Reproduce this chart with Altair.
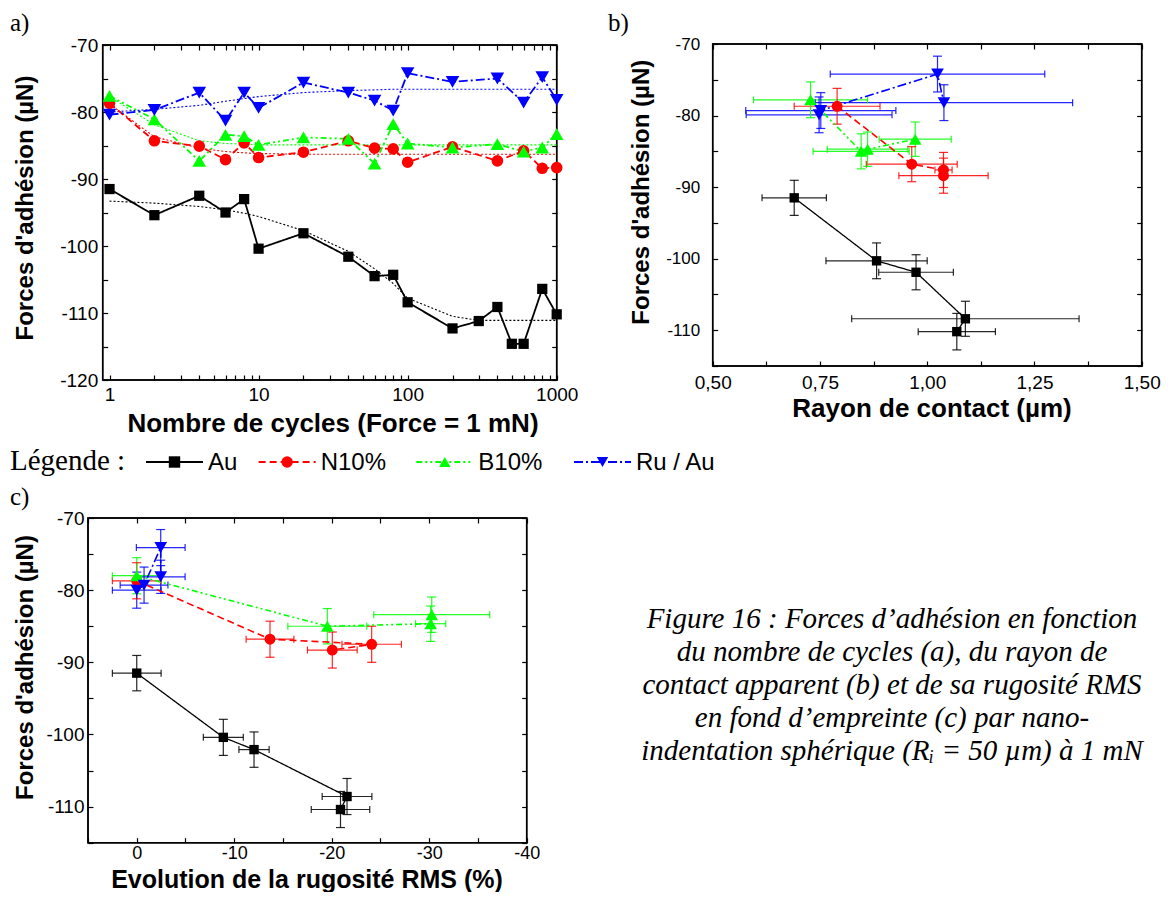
import altair as alt
import pandas as pd

W, H = 1158, 884
TS = 5
SANS = "Liberation Sans"
SERIF = "Liberation Serif"

SERIES = ["Au", "N10%", "B10%", "Ru / Au"]
COLORS = ["#000000", "#ff0000", "#00ff00", "#0000ff"]
SHAPES = ["square", "circle", "triangle-up", "triangle-down"]
DASHES = [[1, 0], [7, 4], [6, 3, 2, 3, 2, 3], [9, 3, 2, 3]]
SIZES_A = [105, 135, 185, 185]
SIZES_BC = [88, 120, 160, 160]

# ---------------- panel a : adhesion force vs number of cycles ----------------
CYCLES_AU = [1, 2, 4, 6, 8, 10, 20, 40, 60, 80, 100, 200, 300, 400, 500, 600, 800, 1000]
A_AU = [-91.5, -95.4, -92.5, -95.0, -93.0, -100.4, -98.1, -101.6, -104.5, -104.3,
        -108.4, -112.3, -111.2, -109.1, -114.6, -114.6, -106.4, -110.2]
CYCLES = [1, 2, 4, 6, 8, 10, 20, 40, 60, 80, 100, 200, 400, 600, 800, 1000]
A_N10 = [-78.7, -84.3, -85.1, -87.1, -84.6, -86.8, -86.0, -84.3, -85.4, -85.5,
         -87.5, -85.2, -87.3, -85.8, -88.4, -88.3]
A_B10 = [-77.6, -81.1, -87.3, -83.4, -83.6, -84.9, -83.8, -84.0, -87.7, -81.8,
         -84.7, -85.3, -84.8, -85.9, -85.3, -83.3]
A_RU = [-80.4, -79.7, -77.1, -81.3, -77.1, -79.4, -75.6, -77.1, -78.3, -79.8,
        -74.2, -75.5, -75.0, -78.6, -74.8, -78.2]

FIT_X = [1, 2, 4, 6, 8, 10, 20, 40, 60, 80, 100, 200, 300, 1000]
FIT_AU = [-93.3, -93.6, -94.1, -94.6, -95.1, -95.6, -97.7, -100.8, -103.4, -105.6,
          -107.8, -110.5, -111.1, -111.1]
FIT_N10 = [-78.8, -83.7, -85.4, -85.9, -86.1, -86.2, -86.3, -86.3, -86.3, -86.3,
           -86.3, -86.3, -86.3, -86.3]
FIT_B10 = [-77.7, -81.9, -84.3, -84.7, -84.8, -84.9, -84.9, -84.9, -84.9, -84.9,
           -84.9, -84.9, -84.9, -84.9]
FIT_RU = [-80.0, -79.6, -79.0, -78.4, -78.0, -77.7, -77.1, -76.8, -76.7, -76.6,
          -76.6, -76.6, -76.6, -76.6]

# ---------------- panel b : adhesion force vs contact radius ----------------
B_AU_X = [0.690, 0.882, 0.974, 1.089, 1.069]
B_AU_Y = [-91.5, -100.3, -101.9, -108.4, -110.2]
B_AU_XERR = [0.075, 0.118, 0.087, 0.265, 0.090]
B_AU_YERR = [2.45, 2.5, 2.45, 2.45, 2.55]
B_N10_X = [0.790, 0.964, 1.038, 1.038]
B_N10_Y = [-78.7, -86.8, -87.6, -88.4]
B_N10_XERR = [0.100, 0.106, 0.020, 0.104]
B_N10_YERR = [2.5, 2.45, 2.45, 2.45]
B_B10_X = [0.728, 0.846, 0.861, 0.972]
B_B10_Y = [-77.8, -85.0, -84.7, -83.3]
B_B10_XERR = [0.133, 0.112, 0.094, 0.084]
B_B10_YERR = [2.5, 2.45, 2.4, 2.4]
B_RU_X = [0.748, 0.752, 1.024, 1.039]
B_RU_Y = [-79.9, -79.3, -74.2, -78.2]
B_RU_XERR = [0.170, 0.175, 0.250, 0.300]
B_RU_YERR = [2.5, 2.5, 2.5, 2.5]

# ---------------- panel c : adhesion force vs RMS roughness change ----------------
C_AU_X = [0.0, -8.88, -12.03, -21.57, -20.9]
C_AU_Y = [-91.5, -100.4, -102.1, -108.6, -110.4]
C_AU_XERR = [2.5, 2.05, 1.55, 2.55, 3.0]
C_AU_YERR = [2.45, 2.5, 2.45, 2.5, 2.5]
C_N10_X = [0.0, -13.67, -24.1, -20.06]
C_N10_Y = [-78.7, -86.8, -87.5, -88.3]
C_N10_XERR = [2.5, 2.45, 3.05, 2.55]
C_N10_YERR = [2.5, 2.5, 2.5, 2.5]
C_B10_X = [0.0, -19.55, -30.15, -30.26]
C_B10_Y = [-78.0, -85.0, -84.65, -83.4]
C_B10_XERR = [2.5, 4.05, 1.55, 5.95]
C_B10_YERR = [2.5, 2.45, 2.45, 2.45]
C_RU_X = [0.0, -0.75, -2.46, -2.46]
C_RU_Y = [-80.0, -79.3, -74.1, -78.15]
C_RU_XERR = [2.5, 2.45, 2.5, 2.5]
C_RU_YERR = [2.5, 2.5, 2.5, 2.3]

# ---------------- ticks & texts ----------------
A_XTICKS = [1, 2, 3, 4, 5, 6, 7, 8, 9, 10, 20, 30, 40, 50, 60, 70, 80, 90,
            100, 200, 300, 400, 500, 600, 700, 800, 900, 1000]
A_YTICKS = [-120, -115, -110, -105, -100, -95, -90, -85, -80, -75, -70]
B_XTICKS = [0.5, 0.625, 0.75, 0.875, 1.0, 1.125, 1.25, 1.375, 1.5]
BC_YTICKS = [-115, -110, -105, -100, -95, -90, -85, -80, -75, -70]
C_XTICKS = [5, 0, -5, -10, -15, -20, -25, -30, -35, -40]

Y_TITLE = "Forces d'adhésion (µN)"
LEGEND_TITLE = "Légende :"
CAPTION = [
    "Figure 16 : Forces d’adhésion en fonction",
    "du nombre de cycles (a), du rayon de",
    "contact apparent (b) et de sa rugosité RMS",
    "en fond d’empreinte (c) par nano-",
    "indentation sphérique (Rᵢ = 50 µm) à 1 mN",
]

YLAB = "datum.value % 10 == 0 ? '' + datum.value : ''"

PA = dict(xtype="log", xdom=[0.9, 1000], xr=[94.7, 548.7], ydom=[-120, -70], yr=[372, 37],
          xticks=A_XTICKS, yticks=A_YTICKS,
          xlabel="indexof([1, 10, 100, 1000], datum.value) >= 0 ? '' + datum.value : ''",
          xlp=5, xfs=19, ylp=5, yfs=19,
          xtitle="Nombre de cycles (Force = 1 mN)", xtx=324.5, xty=423.7, xtfs=26,
          ytx=17, yty=199.5)
PB = dict(xtype="linear", xdom=[0.5, 1.5], xr=[704.7, 1133.7], ydom=[-115, -70], yr=[358, 36],
          xticks=B_XTICKS, yticks=BC_YTICKS,
          xlabel="abs(datum.value * 4 - round(datum.value * 4)) < 0.001 ? replace(format(datum.value, '.2f'), '.', ',') : ''",
          xlp=7, xfs=19, ylp=13, yfs=17,
          xtitle="Rayon de contact (µm)", xtx=923.5, xty=408.7, xtfs=26,
          ytx=633, yty=183.7)
PC = dict(xtype="linear", xdom=[5, -40], xr=[80, 518.7], ydom=[-115, -70], yr=[834.7, 510],
          xticks=C_XTICKS, yticks=BC_YTICKS,
          xlabel=YLAB, xlp=2, xfs=18, ylp=4, yfs=19,
          xtitle="Evolution de la rugosité RMS (%)", xtx=298.5, xty=879, xtfs=25,
          ytx=17, yty=659)


def xscale(p):
    kw = dict(type=p["xtype"], domain=p["xdom"], range=p["xr"], nice=False)
    if p["xtype"] != "log":
        kw["zero"] = False
    return alt.Scale(**kw)


def yscale(p):
    return alt.Scale(type="linear", domain=p["ydom"], range=p["yr"], nice=False, zero=False)


def X(field, p, axis=None):
    return alt.X(field, type="quantitative", scale=xscale(p), axis=axis)


def Y(field, p, axis=None):
    return alt.Y(field, type="quantitative", scale=yscale(p), axis=axis)


COLOR = alt.Color("series:N", scale=alt.Scale(domain=SERIES, range=COLORS), legend=None)


def frame_layers(p):
    df = pd.DataFrame({"x0": [p["xdom"][0]], "x1": [p["xdom"][1]],
                       "y0": [p["ydom"][0]], "y1": [p["ydom"][1]]})
    L, R = p["xr"]
    B, T = p["yr"]
    base = dict(tickSize=TS, tickColor="black", tickWidth=1.2, domain=False, grid=False,
                labelFlush=False, labelOverlap=False, labelBound=False, labelColor="black",
                labelFont=SANS, titleColor="black", titleFont=SANS, titleFontWeight="bold")
    bottom = alt.Axis(orient="bottom", offset=B - TS - H, values=p["xticks"], labelExpr=p["xlabel"],
                      labelPadding=p["xlp"], labelFontSize=p["xfs"], title=p["xtitle"],
                      titleX=p["xtx"], titleY=p["xty"] - (B - TS), titleBaseline="alphabetic",
                      titleAlign="center", titleFontSize=p["xtfs"], **base)
    left = alt.Axis(orient="left", offset=-(L + TS), values=p["yticks"], labelExpr=YLAB,
                    labelPadding=p["ylp"], labelFontSize=p["yfs"], title=Y_TITLE,
                    titleX=p["ytx"] - (L + TS), titleY=p["yty"], titleAngle=270,
                    titleAlign="center", titleBaseline="middle", titleFontSize=24, **base)
    top = alt.Axis(orient="top", offset=-(T + TS), values=p["xticks"], labels=False, title=None, **base)
    right = alt.Axis(orient="right", offset=R - TS - W, values=p["yticks"], labels=False, title=None, **base)
    l1 = alt.Chart(df).mark_rect(fill="transparent", stroke="black", strokeWidth=1.5).encode(
        x=X("x0", p, bottom), x2="x1", y=Y("y0", p, left), y2="y1")
    l2 = alt.Chart(df).mark_rect(fill="transparent", stroke="black", strokeWidth=1.5).encode(
        x=X("x0", p, top), x2="x1", y=Y("y0", p, right), y2="y1")
    return [l1, l2]


layers = []

# ---- panel a ----
a_rows = []
for s, (xs, ys) in zip(SERIES, [(CYCLES_AU, A_AU), (CYCLES, A_N10), (CYCLES, A_B10), (CYCLES, A_RU)]):
    for k, (xv, yv) in enumerate(zip(xs, ys)):
        a_rows.append({"series": s, "k": k, "x": xv, "y": yv})
df_a = pd.DataFrame(a_rows)
fit_rows = []
for s, ys in zip(SERIES, [FIT_AU, FIT_N10, FIT_B10, FIT_RU]):
    for k, (xv, yv) in enumerate(zip(FIT_X, ys)):
        fit_rows.append({"series": s, "k": k, "x": xv, "y": yv})
df_fit = pd.DataFrame(fit_rows)

layers += frame_layers(PA)
layers.append(alt.Chart(df_fit).mark_line(strokeWidth=1.1, strokeDash=[2, 2]).encode(
    x=X("x", PA), y=Y("y", PA), color=COLOR, detail="series:N", order="k:Q"))
for i, s in enumerate(SERIES):
    d = df_a[df_a.series == s]
    layers.append(alt.Chart(d).mark_line(color=COLORS[i], strokeDash=DASHES[i], strokeWidth=1.8).encode(
        x=X("x", PA), y=Y("y", PA), order="k:Q"))
for i, s in enumerate(SERIES):
    d = df_a[df_a.series == s]
    layers.append(alt.Chart(d).mark_point(shape=SHAPES[i], filled=True, opacity=1, size=SIZES_A[i],
                                          color=COLORS[i]).encode(x=X("x", PA), y=Y("y", PA)))


def err_panel(p, groups):
    rows = []
    for s, (xs, ys, xe, ye) in zip(SERIES, groups):
        for k in range(len(xs)):
            rows.append({"series": s, "k": k, "x": xs[k], "y": ys[k], "xerr": xe[k], "yerr": ye[k]})
    df = pd.DataFrame(rows)
    out = frame_layers(p)
    base = alt.Chart(df).transform_calculate(
        xlo="datum.x - datum.xerr", xhi="datum.x + datum.xerr",
        ylo="datum.y - datum.yerr", yhi="datum.y + datum.yerr")
    out.append(base.mark_rule(strokeWidth=1.2, opacity=0.85).encode(
        x=X("xlo", p), x2="xhi:Q", y=Y("y", p), color=COLOR))
    out.append(base.mark_rule(strokeWidth=1.2, opacity=0.85).encode(
        x=X("x", p), y=Y("ylo", p), y2="yhi:Q", color=COLOR))
    out.append(base.transform_fold(["xlo", "xhi"], as_=["side", "xc"]).mark_tick(
        orient="vertical", size=7, thickness=1.2, opacity=0.85).encode(
        x=X("xc", p), y=Y("y", p), color=COLOR))
    out.append(base.transform_fold(["ylo", "yhi"], as_=["side", "yc"]).mark_tick(
        orient="horizontal", size=9, thickness=1.2, opacity=0.85).encode(
        x=X("x", p), y=Y("yc", p), color=COLOR))
    for i, s in enumerate(SERIES):
        d = df[df.series == s]
        out.append(alt.Chart(d).mark_line(color=COLORS[i], strokeDash=DASHES[i],
                                          strokeWidth=1.6 if i else 1.3).encode(
            x=X("x", p), y=Y("y", p), order="k:Q"))
    for i, s in enumerate(SERIES):
        d = df[df.series == s]
        out.append(alt.Chart(d).mark_point(shape=SHAPES[i], filled=True, opacity=1, size=SIZES_BC[i],
                                           color=COLORS[i]).encode(x=X("x", p), y=Y("y", p)))
    return out


layers += err_panel(PB, [(B_AU_X, B_AU_Y, B_AU_XERR, B_AU_YERR),
                         (B_N10_X, B_N10_Y, B_N10_XERR, B_N10_YERR),
                         (B_B10_X, B_B10_Y, B_B10_XERR, B_B10_YERR),
                         (B_RU_X, B_RU_Y, B_RU_XERR, B_RU_YERR)])
layers += err_panel(PC, [(C_AU_X, C_AU_Y, C_AU_XERR, C_AU_YERR),
                         (C_N10_X, C_N10_Y, C_N10_XERR, C_N10_YERR),
                         (C_B10_X, C_B10_Y, C_B10_XERR, C_B10_YERR),
                         (C_RU_X, C_RU_Y, C_RU_XERR, C_RU_YERR)])

# ---- panel labels ----
for lab, px, py in [("a)", 2, 23), ("b)", 600, 23), ("c)", 2, 497)]:
    layers.append(alt.Chart(pd.DataFrame({"t": [lab]})).mark_text(
        font=SERIF, fontSize=25, align="left", baseline="alphabetic", color="black").encode(
        text="t:N", x=alt.value(px), y=alt.value(py)))

# ---- legend row : items flow like inline text (slot = characters before + gaps) ----
slots, acc = [], 0
for s in SERIES:
    slots.append(acc)
    acc += len(s) + 3
leg_df = pd.DataFrame({"series": SERIES, "slot": slots})
LEG_X = alt.X("slot:Q", scale=alt.Scale(domain=[0, slots[-1]], range=[166.5, 594.5], zero=False, nice=False),
              axis=None)
layers.append(alt.Chart(pd.DataFrame({"t": [LEGEND_TITLE]})).mark_text(
    font=SERIF, fontSize=29, align="left", baseline="alphabetic", color="black").encode(
    text="t:N", x=alt.value(2), y=alt.value(462)))
layers.append(alt.Chart(leg_df).mark_rule(strokeWidth=2, xOffset=-28.5, x2Offset=28.5).encode(
    x=LEG_X, x2="slot:Q", y=alt.value(454), color=COLOR,
    strokeDash=alt.StrokeDash("series:N", scale=alt.Scale(domain=SERIES, range=DASHES), legend=None)))
layers.append(alt.Chart(leg_df).mark_point(filled=True, opacity=1, size=130).encode(
    x=LEG_X, y=alt.value(454), color=COLOR,
    shape=alt.Shape("series:N", scale=alt.Scale(domain=SERIES, range=SHAPES), legend=None)))
layers.append(alt.Chart(leg_df).mark_text(font=SANS, fontSize=24, align="left", baseline="alphabetic",
                                          dx=33.5, color="black").encode(
    x=LEG_X, y=alt.value(462), text="series:N"))

# ---- caption ----
cap_df = pd.DataFrame({"i": list(range(len(CAPTION))), "t": CAPTION})
layers.append(alt.Chart(cap_df).mark_text(font=SERIF, fontSize=29, fontStyle="italic", align="center",
                                          baseline="alphabetic", color="black").encode(
    x=alt.value(884),
    y=alt.Y("i:Q", scale=alt.Scale(domain=[0, 4], range=[620, 752]), axis=None),
    text="t:N"))

chart = alt.layer(*layers).resolve_scale(x="independent", y="independent").properties(
    width=W, height=H, autosize=alt.AutoSizeParams(type="none"), padding=0
).configure_view(stroke=None)

chart.save("out.html", embed_options={"renderer": "svg", "actions": False})
